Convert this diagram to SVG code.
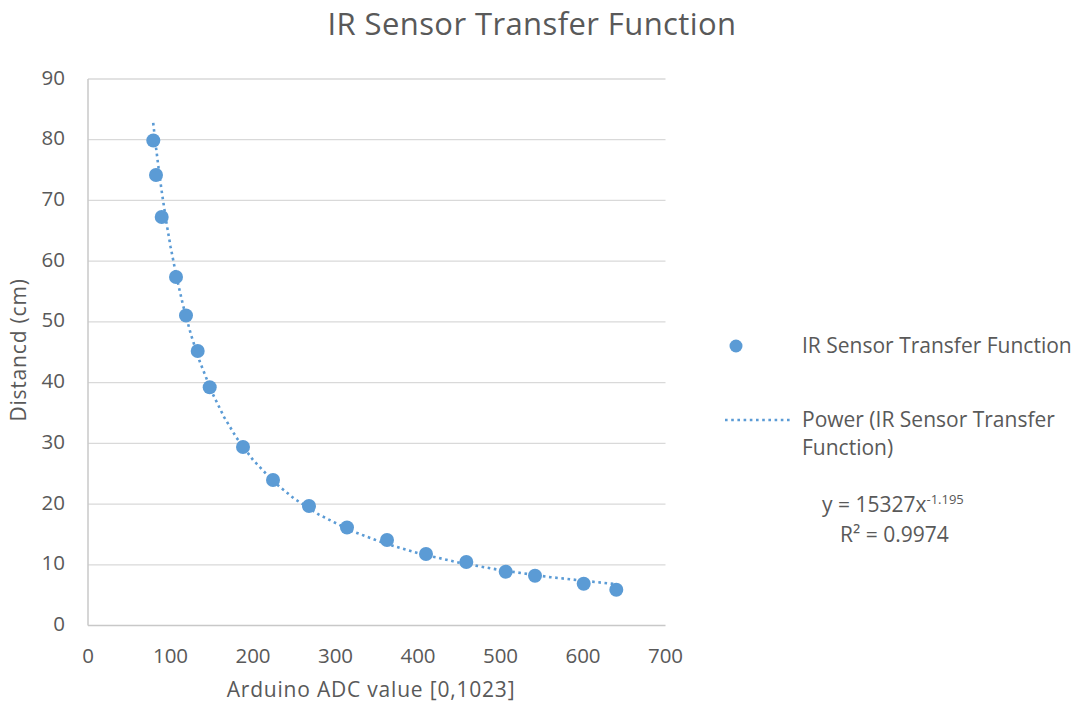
<svg xmlns="http://www.w3.org/2000/svg" width="1075" height="715" viewBox="0 0 1075 715">
<style>
text{font-family:"Open Sans","Liberation Sans",sans-serif;fill:#595959}
.tick{font-size:20.5px}
.yl{text-anchor:end}
.xl{text-anchor:middle}
.grid{stroke:#D9D9D9;stroke-width:1.3}
.axis{stroke:#C8C8C8;stroke-width:1.5}
.pt{fill:#5B9BD5}
.trend{fill:none;stroke:#5B9BD5;stroke-width:2.6;stroke-dasharray:2.6 3.6}
.leg{font-size:21px}
</style>
<rect width="1075" height="715" fill="#ffffff"/>
<g id="title"><text x="532" y="35" text-anchor="middle" font-size="31" letter-spacing="0.4">IR Sensor Transfer Function</text></g>
<g id="grid">
<line class="grid" x1="88" y1="79" x2="665.5" y2="79"/>
<line class="grid" x1="88" y1="139.7" x2="665.5" y2="139.7"/>
<line class="grid" x1="88" y1="200.4" x2="665.5" y2="200.4"/>
<line class="grid" x1="88" y1="261.2" x2="665.5" y2="261.2"/>
<line class="grid" x1="88" y1="321.9" x2="665.5" y2="321.9"/>
<line class="grid" x1="88" y1="382.6" x2="665.5" y2="382.6"/>
<line class="grid" x1="88" y1="443.3" x2="665.5" y2="443.3"/>
<line class="grid" x1="88" y1="504.1" x2="665.5" y2="504.1"/>
<line class="grid" x1="88" y1="564.8" x2="665.5" y2="564.8"/>
<line class="axis" x1="88" y1="625.5" x2="665.5" y2="625.5"/>
<line class="axis" x1="88" y1="79" x2="88" y2="625.5"/>
</g>
<g id="y-axis-labels" class="tick">
<text class="yl" x="65" y="84.5">90</text>
<text class="yl" x="65" y="145.2">80</text>
<text class="yl" x="65" y="205.9">70</text>
<text class="yl" x="65" y="266.7">60</text>
<text class="yl" x="65" y="327.4">50</text>
<text class="yl" x="65" y="388.1">40</text>
<text class="yl" x="65" y="448.8">30</text>
<text class="yl" x="65" y="509.6">20</text>
<text class="yl" x="65" y="570.3">10</text>
<text class="yl" x="65" y="631">0</text>
</g>
<g id="x-axis-labels" class="tick">
<text class="xl" x="88" y="663">0</text>
<text class="xl" x="170.5" y="663">100</text>
<text class="xl" x="253" y="663">200</text>
<text class="xl" x="335.5" y="663">300</text>
<text class="xl" x="418" y="663">400</text>
<text class="xl" x="500.5" y="663">500</text>
<text class="xl" x="583" y="663">600</text>
<text class="xl" x="665.5" y="663">700</text>
</g>
<g id="axis-titles">
<text x="371" y="697" text-anchor="middle" font-size="21" letter-spacing="0.8">Arduino ADC value [0,1023]</text>
<text transform="translate(26,350) rotate(-90)" text-anchor="middle" font-size="21" letter-spacing="0.8">Distancd (cm)</text>
</g>
<g id="connectors">
<polyline class="trend" points="153.2,122.9 155.7,144.9 159,171.5 162.3,195.5 166.4,222.4 170.5,246.4 176.3,275.8 182.9,304.7 191.1,335.1 199.4,360.6 211.8,392 224.1,417.1 236.5,437.7 253,459.9 273.6,481.7 294.3,498.7 319,514.7 352,531.1 385,543.5 418,553.2 459.3,562.7 500.5,570.1 550,577.1 616.8,584.3"/>
</g>
<g id="data-points">
<circle class="pt" cx="153.3" cy="140.5" r="7"/>
<circle class="pt" cx="156" cy="175" r="7"/>
<circle class="pt" cx="161.7" cy="217" r="7"/>
<circle class="pt" cx="176" cy="277" r="7"/>
<circle class="pt" cx="186" cy="315.5" r="7"/>
<circle class="pt" cx="197.7" cy="351" r="7"/>
<circle class="pt" cx="209.7" cy="387.3" r="7"/>
<circle class="pt" cx="243" cy="447" r="7"/>
<circle class="pt" cx="273" cy="480" r="7"/>
<circle class="pt" cx="309" cy="506" r="7"/>
<circle class="pt" cx="347" cy="527.5" r="7"/>
<circle class="pt" cx="387" cy="540" r="7"/>
<circle class="pt" cx="426" cy="554" r="7"/>
<circle class="pt" cx="466.3" cy="562" r="7"/>
<circle class="pt" cx="505.7" cy="571.7" r="7"/>
<circle class="pt" cx="535" cy="575.7" r="7"/>
<circle class="pt" cx="583.7" cy="583.7" r="7"/>
<circle class="pt" cx="616.3" cy="589.7" r="7"/>
</g>
<g id="legend" class="leg">
<circle class="pt" cx="736" cy="346" r="6.5"/>
<text x="802" y="353">IR Sensor Transfer Function</text>
<line class="trend" x1="725" y1="420" x2="792" y2="420"/>
<text x="802" y="427">Power (IR Sensor Transfer</text>
<text x="802" y="455">Function)</text>
</g>
<g id="equation" class="leg">
<text x="822" y="512">y = 15327x<tspan font-size="13" dy="-8">-1.195</tspan></text>
<text x="840" y="541.5">R² = 0.9974</text>
</g>
</svg>
